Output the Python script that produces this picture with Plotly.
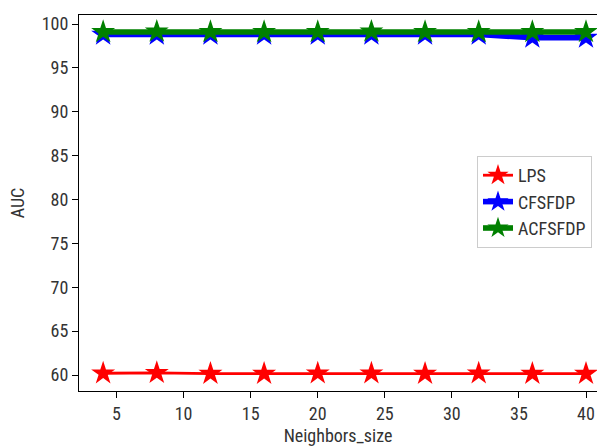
import plotly.graph_objects as go

neighbors = [4, 8, 12, 16, 20, 24, 28, 32, 36, 40]
lps = [60.2, 60.25, 60.15, 60.15, 60.2, 60.2, 60.15, 60.2, 60.15, 60.15]
cfsfdp = [98.8, 98.8, 98.8, 98.8, 98.8, 98.8, 98.8, 98.8, 98.45, 98.45]
acfsfdp = [99.1, 99.15, 99.1, 99.1, 99.1, 99.15, 99.1, 99.1, 99.1, 99.1]

series = [("LPS", lps, "red", 2.8), ("CFSFDP", cfsfdp, "blue", 5.6), ("ACFSFDP", acfsfdp, "green", 5.6)]

fig = go.Figure()
for name, vals, col, lw in series:
    fig.add_trace(go.Scatter(
        x=neighbors, y=vals, name=name, mode="lines+markers",
        line=dict(color=col, width=lw),
        marker=dict(symbol="star", size=18, color=col, line=dict(width=0)),
        cliponaxis=False,
    ))

font = dict(family="Liberation Sans Narrow, Arial Narrow, Roboto Condensed, sans-serif", size=18, color="#333333")
fig.update_layout(
    width=597, height=446,
    margin=dict(l=79, r=0, t=15, b=55),
    paper_bgcolor="white", plot_bgcolor="white",
    font=font,
    showlegend=True,
    legend=dict(x=(477 - 79) / (597 - 79), y=1 - (156 - 15) / (391 - 15),
                xanchor="left", yanchor="top",
                bordercolor="#cccccc", borderwidth=1, bgcolor="rgba(255,255,255,0.8)",
                font=font, itemwidth=30),
)
fig.update_xaxes(
    range=[2.2, 40.82], tickvals=[5, 10, 15, 20, 25, 30, 35, 40],
    showgrid=False, zeroline=False, showline=True, linecolor="black", linewidth=1,
    mirror=True, ticks="outside", ticklen=6, tickcolor="black",
    title=dict(text="Neighbors_size", standoff=6, font=font),
)
fig.update_yaxes(
    range=[58.18, 101.03], tickvals=[60, 65, 70, 75, 80, 85, 90, 95, 100],
    showgrid=False, zeroline=False, showline=True, linecolor="black", linewidth=1,
    mirror=False, ticks="outside", ticklen=6, tickcolor="black",
    title=dict(text="AUC", standoff=12, font=font),
)
fig.write_html("out.html")
